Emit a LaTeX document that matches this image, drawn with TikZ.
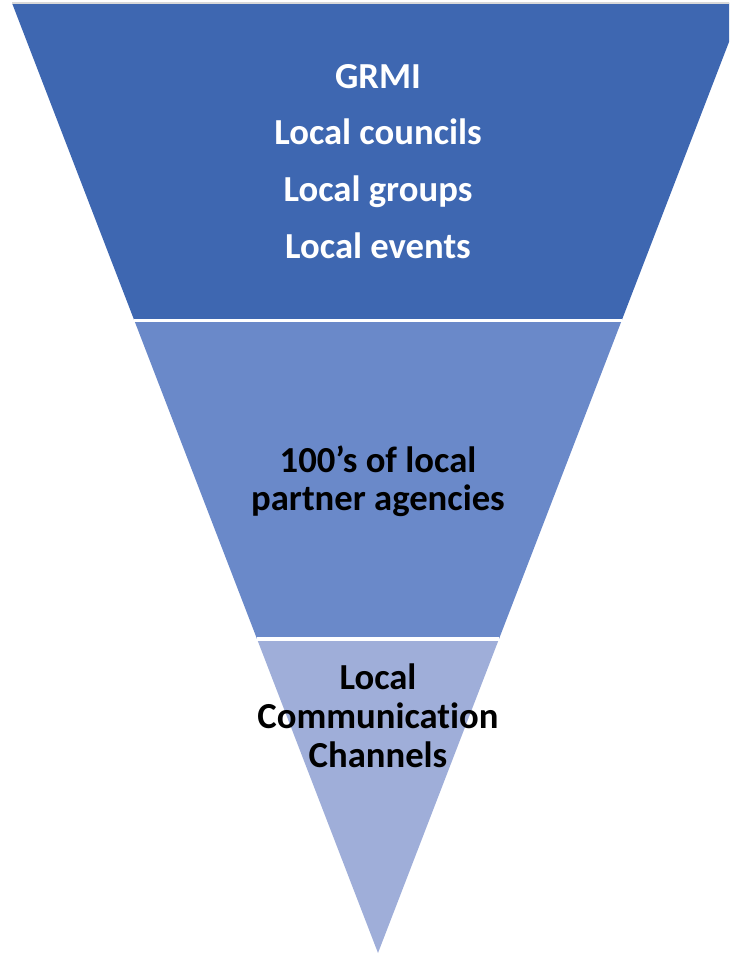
\documentclass[tikz,border=0pt]{standalone}
\usepackage{fontspec}
\setmainfont[Ligatures={NoCommon}]{Carlito}
\usetikzlibrary{calc}
\definecolor{bandA}{HTML}{3E67B1}
\definecolor{bandB}{HTML}{6A89C9}
\definecolor{bandC}{HTML}{9FAED9}
\tikzset{
  lbl/.style={anchor=base, inner sep=0pt, font=\fontsize{27.5}{33}\selectfont\bfseries},
  sep/.style={draw=white, line width=2.4pt},
}
\begin{document}
\begin{tikzpicture}[x=0.75pt,y=-0.75pt]
\useasboundingbox (0,0) rectangle (729,955);
\clip (0,0) rectangle (729,955);
\coordinate (TL) at (12,3);
\coordinate (TR) at (744,3);
\coordinate (A) at (378,953);
\coordinate (L1) at ($(TL)!0.3342!(A)$);
\coordinate (R1) at ($(TR)!0.3342!(A)$);
\coordinate (L2) at ($(TL)!0.6695!(A)$);
\coordinate (R2) at ($(TR)!0.6695!(A)$);
\fill[bandA] (TL) -- (TR) -- (R1) -- (L1) -- cycle;
\fill[bandB] (L1) -- (R1) -- (R2) -- (L2) -- cycle;
\fill[bandC] (L2) -- (R2) -- (A) -- cycle;
\draw[sep] (L1) -- (R1);
\draw[sep] (L2) -- (R2);
\draw[black!15, line width=0.8pt] (TL) -- (TR);
% top band
\node[lbl, text=white] (t1) at (378,88.5) {GRMI};
\node[lbl, text=white] (t2) at (378,145) {Local councils};
\node[lbl, text=white] (t3) at (378,202) {Local groups};
\node[lbl, text=white] (t4) at (378,258) {Local events};
% middle band
\node[lbl] (m1) at (378,472) {100’s of local};
\node[lbl] (m2) at (378,510) {partner agencies};
% bottom band
\node[lbl] (b1) at (378,689.5) {Local};
\node[lbl] (b2) at (378,728.5) {Communication};
\node[lbl] (b3) at (378,767.5) {Channels};
\end{tikzpicture}
\end{document}
